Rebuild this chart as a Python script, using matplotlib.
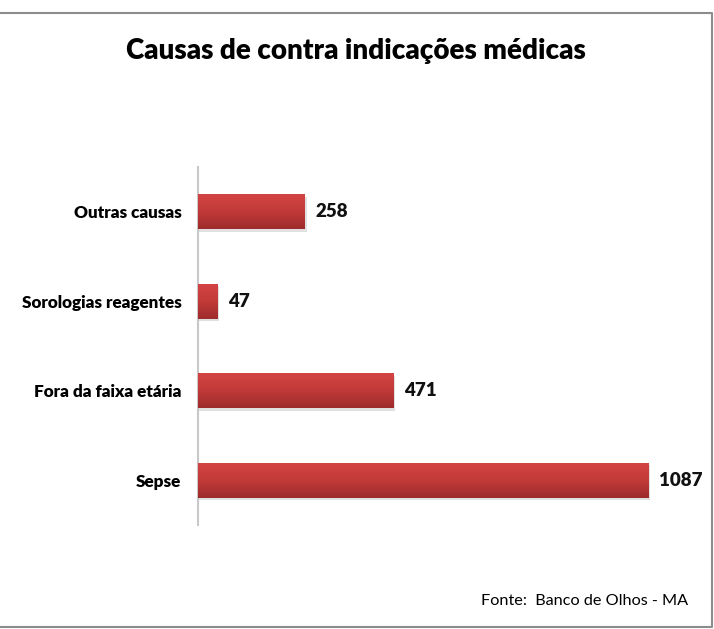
import numpy as np
import matplotlib.pyplot as plt
from matplotlib.colors import LinearSegmentedColormap
from matplotlib.patches import Rectangle

# --- data ---
categories = ["Sepse", "Fora da faixa etária", "Sorologias reagentes", "Outras causas"]
values = [1087, 471, 47, 258]

plt.rcParams['font.family'] = ['Lato', 'DejaVu Sans']

fig = plt.figure(figsize=(7.14, 6.29), dpi=100)
W, H = 714, 629
ax = fig.add_axes([198 / W, 1 - 525 / H, (695 - 198) / W, (525 - 167) / H])

bar_h = 0.39
grad = LinearSegmentedColormap.from_list("red", ["#d34443", "#c13a39", "#9e2b2b"])
ypos = np.arange(len(categories))
bars = ax.barh(ypos, values, height=bar_h, color="#bf3a3a", zorder=2)
for b in bars:
    x0, y0, w, h = b.get_x(), b.get_y(), b.get_width(), b.get_height()
    # soft shadow
    ax.add_patch(Rectangle((x0, y0 - 0.03), w + 4, h, color="#000000", alpha=0.12,
                           lw=0, zorder=1))
    img = ax.imshow(np.linspace(0, 1, 50).reshape(-1, 1), cmap=grad, aspect="auto",
                    extent=[x0, x0 + w, y0, y0 + h], origin="upper", zorder=3)
    img.set_clip_path(b)

for y, v in zip(ypos, values):
    ax.text(v + 26, y, str(v), va="center", ha="left", fontsize=13.5,
            fontweight="heavy", color="#111111")

ax.set_xlim(0, 1200)
ax.set_ylim(-0.5, 3.5)
ax.set_yticks(ypos)
ax.set_yticklabels(categories, fontsize=12.3, fontweight="heavy")
ax.tick_params(axis="y", length=0, pad=12)
ax.set_xticks([])
for s in ["top", "right", "bottom"]:
    ax.spines[s].set_visible(False)
ax.spines["left"].set_color("#c8c8c8")
ax.spines["left"].set_linewidth(1.5)

fig.text(356 / W, 1 - 51 / H, "Causas de contra indicações médicas", ha="center",
         va="center", fontsize=20, fontweight="heavy")
fig.text(688 / W, 1 - 601 / H, "Fonte:  Banco de Olhos - MA", ha="right",
         va="center", fontsize=11.7)

# chart border
fig.add_artist(plt.Line2D([0, 712 / W, 712 / W, 0],
                          [1 - 13 / H, 1 - 13 / H, 1 - 627 / H, 1 - 627 / H],
                          color="#8c8c8c", lw=1.5, transform=fig.transFigure))

fig.savefig("out.png", dpi=100)
